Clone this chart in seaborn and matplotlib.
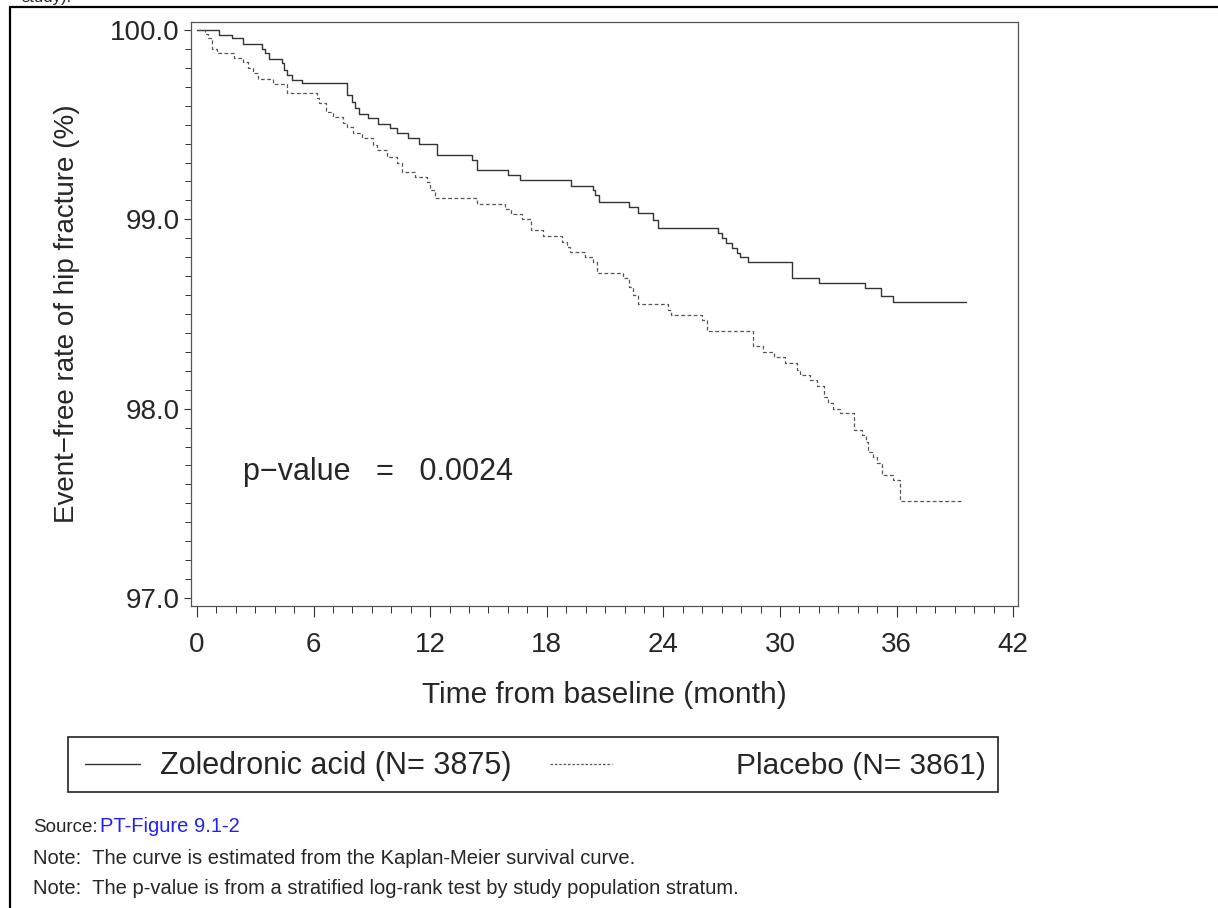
import matplotlib
matplotlib.use('Agg')
import matplotlib.pyplot as plt
from matplotlib.lines import Line2D
from matplotlib.patches import Rectangle
from matplotlib.ticker import MultipleLocator, FormatStrFormatter
import pandas as pd
import seaborn as sns

sns.set_style('white')
plt.rcParams['font.family'] = ['Liberation Sans', 'DejaVu Sans']

# Kaplan-Meier step points (month, event-free %)
zol_time = [0, 1.15, 1.78, 2.38, 3.33, 3.5, 3.7, 4.36, 4.5, 4.65, 4.9, 5.39,
            7.7, 7.96, 8.13, 8.36, 8.82, 9.33, 9.93, 10.28, 10.88, 11.4, 12.34,
            14.14, 14.4, 16.0, 16.6, 19.25, 20.36, 20.5, 20.7, 22.25, 22.7,
            23.45, 23.74, 26.8, 27.0, 27.22, 27.52, 27.78, 27.95, 28.34, 30.6,
            32.03, 34.38, 35.2, 35.84, 39.58]
zol_surv = [100.0, 99.974, 99.956, 99.926, 99.898, 99.877, 99.845, 99.824, 99.789,
            99.762, 99.736, 99.718, 99.657, 99.621, 99.586, 99.555, 99.534, 99.503,
            99.48, 99.454, 99.428, 99.398, 99.34, 99.313, 99.26, 99.234, 99.21,
            99.178, 99.155, 99.128, 99.093, 99.063, 99.035, 98.996, 98.952, 98.926,
            98.9, 98.873, 98.847, 98.82, 98.799, 98.776, 98.692, 98.665, 98.635,
            98.596, 98.561, 98.561]

pbo_time = [0, 0.41, 0.55, 0.76, 1.01, 1.9, 2.38, 2.64, 2.87, 3.16, 3.93, 4.62,
            6.16, 6.3, 6.64, 7.02, 7.5, 7.7, 8.05, 8.48, 9.04, 9.25, 9.76, 10.28,
            10.53, 11.22, 11.82, 12.0, 12.25, 14.4, 15.85, 16.14, 16.71, 17.2,
            17.79, 18.77, 19.03, 19.2, 19.97, 20.4, 20.57, 21.93, 22.25, 22.42,
            22.71, 24.26, 24.4, 25.97, 26.22, 28.6, 29.15, 29.67, 30.26, 30.86,
            31.03, 31.55, 31.89, 32.27, 32.49, 32.75, 33.09, 33.83, 34.2, 34.43,
            34.55, 34.81, 34.97, 35.24, 35.84, 36.18, 39.44]
pbo_surv = [100.0, 99.979, 99.956, 99.898, 99.877, 99.85, 99.833, 99.797, 99.771,
            99.74, 99.715, 99.669, 99.639, 99.613, 99.569, 99.542, 99.507, 99.489,
            99.454, 99.428, 99.392, 99.366, 99.331, 99.296, 99.252, 99.225, 99.199,
            99.155, 99.11, 99.08, 99.053, 99.026, 99.0, 98.943, 98.913, 98.882,
            98.855, 98.829, 98.802, 98.776, 98.714, 98.688, 98.644, 98.6, 98.551,
            98.521, 98.494, 98.468, 98.412, 98.33, 98.3, 98.274, 98.239, 98.204,
            98.177, 98.151, 98.12, 98.063, 98.028, 98.0, 97.978, 97.887, 97.86,
            97.825, 97.772, 97.746, 97.711, 97.649, 97.623, 97.514, 97.514]

group_labels = ['Zoledronic acid (N= 3875)', 'Placebo (N= 3861)']
p_text = 'p\u2212value   =   0.0024'

zol = pd.DataFrame({'time': zol_time, 'surv': zol_surv})
pbo = pd.DataFrame({'time': pbo_time, 'surv': pbo_surv})

fig = plt.figure(figsize=(12.18, 9.08), dpi=100)
ax = fig.add_axes([191/1218, 1 - 606/908, 827/1218, 584/908])

sns.lineplot(data=zol, x='time', y='surv', ax=ax, estimator=None,
             drawstyle='steps-post', color='#333333', lw=1.0)
sns.lineplot(data=pbo, x='time', y='surv', ax=ax, estimator=None,
             drawstyle='steps-post', color='#555555', lw=0.9, linestyle=(0, (3, 2)))

ax.set_xlim(-0.31, 42.25)
ax.set_ylim(96.958, 100.042)
ax.xaxis.set_major_locator(MultipleLocator(6))
ax.xaxis.set_minor_locator(MultipleLocator(1))
ax.yaxis.set_major_locator(MultipleLocator(1))
ax.yaxis.set_minor_locator(MultipleLocator(0.1))
ax.yaxis.set_major_formatter(FormatStrFormatter('%.1f'))
ax.tick_params(axis='x', which='major', direction='out', length=8, width=0.8,
               labelsize=20, pad=11, bottom=True, color='#333333')
ax.tick_params(axis='x', which='minor', direction='out', length=5, width=0.7,
               bottom=True, color='#333333')
ax.tick_params(axis='y', which='major', direction='out', length=5, width=0.8,
               labelsize=20, pad=3, left=True, color='#333333')
ax.tick_params(axis='y', which='minor', direction='out', length=4, width=0.7,
               left=True, color='#333333')
for s in ax.spines.values():
    s.set_color('#555555')
    s.set_linewidth(0.9)

ax.set_xlabel('Time from baseline (month)', fontsize=21.5, labelpad=16)
ax.set_ylabel('Event\u2212free rate of hip fracture (%)', fontsize=20, labelpad=22)
ax.text(2.37, 97.665, p_text, fontsize=22, va='center', ha='left')

# legend box drawn in figure pixels
W, H = 1218, 908
def fx(px):
    return px / W
def fy(py):
    return 1 - py / H

fig.add_artist(Rectangle((fx(68), fy(792)), fx(998) - fx(68), fy(737) - fy(792),
                         transform=fig.transFigure, fill=False, ec='#222222', lw=1.2))
fig.add_artist(Line2D([fx(85), fx(140)], [fy(764), fy(764)], transform=fig.transFigure,
                      color='#333333', lw=1.0))
fig.add_artist(Line2D([fx(550), fx(612)], [fy(764), fy(764)], transform=fig.transFigure,
                      color='#555555', lw=0.9, linestyle=(0, (2, 1.5))))
fig.text(fx(160), fy(766), group_labels[0], fontsize=22, va='center', ha='left')
fig.text(fx(986), fy(766), group_labels[1], fontsize=21.5, va='center', ha='right')

# outer page frame
fig.add_artist(Line2D([fx(10), 1.0], [fy(7), fy(7)], transform=fig.transFigure,
                      color='black', lw=1.6))
fig.add_artist(Line2D([fx(10), fx(10)], [fy(7), 0.0], transform=fig.transFigure,
                      color='black', lw=1.6))
fig.text(fx(22), fy(2), 'study).', fontsize=12, va='baseline', ha='left')

# footnotes
fig.text(fx(33), fy(827), 'Source:', fontsize=13.5, va='center', ha='left')
fig.text(fx(100), fy(827), 'PT-Figure 9.1-2', fontsize=14.5, va='center', ha='left',
         color='#1f1fff')
fig.text(fx(33), fy(858), 'Note:  The curve is estimated from the Kaplan-Meier survival curve.',
         fontsize=14.5, va='center', ha='left')
fig.text(fx(33), fy(888), 'Note:  The p-value is from a stratified log-rank test by study population stratum.',
         fontsize=14.5, va='center', ha='left')

fig.savefig('out.png', dpi=100)
